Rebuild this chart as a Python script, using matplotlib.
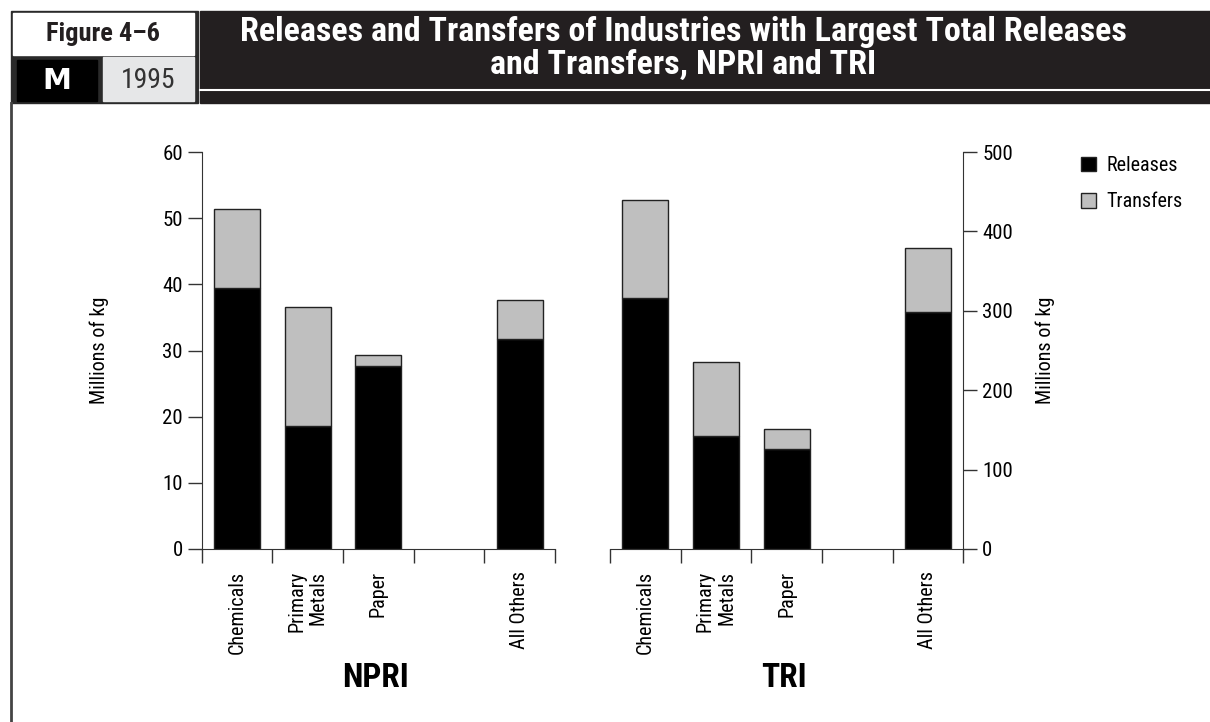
import numpy as np
import matplotlib.pyplot as plt
from matplotlib.patches import Rectangle, Patch

plt.rcParams['font.family'] = ['Roboto Condensed', 'Liberation Sans Narrow', 'Roboto', 'DejaVu Sans']

# data (millions of kg)
categories = ["Chemicals", "Primary\nMetals", "Paper", "All Others"]
slots = [0, 1, 2, 4]  # slot 3 is left empty in the original
npri_releases = [39.4, 18.6, 27.7, 31.8]
npri_totals = [51.4, 36.6, 29.3, 37.7]
tri_releases = [316, 142, 126, 298]
tri_totals = [440, 235, 151, 379]

npri_transfers = [t - r for t, r in zip(npri_totals, npri_releases)]
tri_transfers = [t - r for t, r in zip(tri_totals, tri_releases)]

W, H = 1210, 722
fig = plt.figure(figsize=(W / 100, H / 100), dpi=100)

# header / frame drawn in pixel space
deco = fig.add_axes([0, 0, 1, 1], zorder=0)
deco.set_xlim(0, W)
deco.set_ylim(H, 0)
deco.axis('off')
deco.add_patch(Rectangle((10.5, 10.5), 187, 92.5, color='#2a2a2a'))
deco.add_patch(Rectangle((13, 13), 181, 42, color='white'))
deco.add_patch(Rectangle((17, 60), 80, 41, color='black'))
deco.add_patch(Rectangle((103, 57), 91, 44, color='#e6e7e8'))
deco.add_patch(Rectangle((200, 10.5), W - 200, 92.5, color='#231f20'))
deco.plot([200, W], [90, 90], color='white', lw=1.5)
deco.plot([11, 11], [103, H], color='#444444', lw=2)
deco.text(103, 34, "Figure 4–6", ha='center', va='center', fontsize=19,
          fontweight='bold', color='#231f20')
deco.text(57, 81, "M", ha='center', va='center', fontsize=21,
          fontweight='bold', color='white', family='DejaVu Sans')
deco.text(148, 80, "1995", ha='center', va='center', fontsize=20, color='#333333')
deco.text(683, 32, "Releases and Transfers of Industries with Largest Total Releases",
          ha='center', va='center', fontsize=24.5, fontweight='bold', color='white')
deco.text(683, 65, "and Transfers, NPRI and TRI",
          ha='center', va='center', fontsize=24.5, fontweight='bold', color='white')

bottom = (H - 549) / H
height = 397 / H
ax1 = fig.add_axes([201.7 / W, bottom, 353.3 / W, height])
ax2 = fig.add_axes([610 / W, bottom, 353.3 / W, height])

edge = '#222222'
for ax, rel, tra in [(ax1, npri_releases, npri_transfers), (ax2, tri_releases, tri_transfers)]:
    ax.bar(slots, rel, width=0.65, color='black', edgecolor=edge, lw=1)
    ax.bar(slots, tra, width=0.65, bottom=rel, color='#bfbfbf', edgecolor=edge, lw=1)
    ax.set_xlim(-0.5, 4.5)
    ax.set_xticks(np.arange(-0.5, 5, 1))
    ax.set_xticklabels([])
    ax.set_xticks(slots, minor=True)
    ax.set_xticklabels(categories, minor=True, rotation=90, fontsize=14.5,
                       va='top', ha='center', multialignment='right', linespacing=1.15)
    ax.tick_params(axis='x', which='minor', length=0, pad=16)
    ax.tick_params(which='major', length=10, width=1, color='#333333', labelsize=15)
    ax.spines['top'].set_visible(False)
    for s in ax.spines.values():
        s.set_color('#333333')

ax1.spines['right'].set_visible(False)
ax1.set_ylim(0, 60)
ax1.set_yticks(range(0, 61, 10))
ax1.set_ylabel("Millions of kg", fontsize=14.5)
ax1.yaxis.set_label_coords(-0.262, 0.5)

ax2.spines['left'].set_visible(False)
ax2.set_ylim(0, 500)
ax2.set_yticks(range(0, 501, 100))
ax2.yaxis.tick_right()
ax2.yaxis.set_label_position('right')
ax2.set_ylabel("Millions of kg", fontsize=14.5)
ax2.yaxis.set_label_coords(1.205, 0.5)

fig.text(376 / W, 1 - 678 / H, "NPRI", ha='center', va='center', fontsize=24, fontweight='bold')
fig.text(784 / W, 1 - 678 / H, "TRI", ha='center', va='center', fontsize=24, fontweight='bold')

handles = [Patch(facecolor='black', edgecolor=edge), Patch(facecolor='#bfbfbf', edgecolor=edge)]
fig.legend(handles, ["Releases", "Transfers"], loc='upper left',
           bbox_to_anchor=(1063 / W, 1 - 138 / H), frameon=False, fontsize=14.5,
           handlelength=0.75, handleheight=0.75, labelspacing=0.85, handletextpad=0.5)

fig.savefig("out.png", dpi=100)
